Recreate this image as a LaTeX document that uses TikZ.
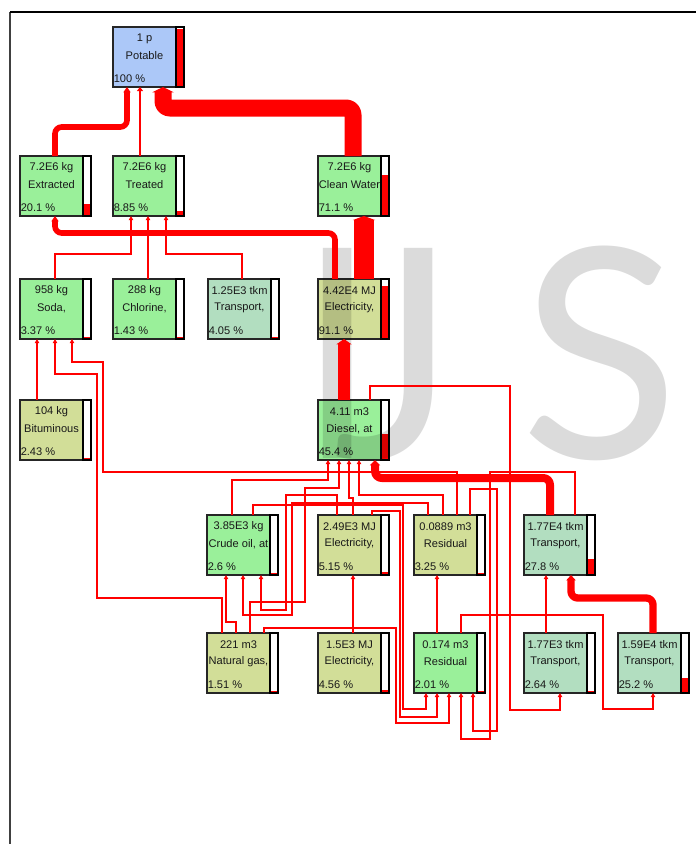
\documentclass[tikz,border=0pt]{standalone}
\usepackage{fontspec}
\setmainfont{Liberation Sans}
\newfontfamily\wmfont{Lato}
\usetikzlibrary{arrows.meta,calc}
\definecolor{nblue}{RGB}{172,200,248}
\definecolor{ngreen}{RGB}{154,240,154}
\definecolor{nolive}{RGB}{210,222,152}
\definecolor{nmint}{RGB}{178,222,192}
\tikzset{
 procbox/.style={draw=black!85, line width=0.8pt, minimum width=47.25pt, minimum height=45pt, inner sep=0pt, outer sep=0pt},
 qtytext/.style={font=\fontsize{8.3}{9.5}\selectfont, inner sep=0pt, text=black!90},
 pcttext/.style={font=\fontsize{8.3}{9.5}\selectfont, inner sep=0pt, anchor=west, text=black!90},
 flow/.style={draw=red, line width=0.8pt, -{Triangle[length=3pt,width=3.2pt]}},
 bigflow/.style={draw=red, line width=#1, rounded corners=5pt, line join=round, -{Triangle[length=4pt,width=0pt 1.25]}},
 wmtext/.style={font=\wmfont\fontsize{220}{220}\selectfont, text=black, text opacity=0.14, inner sep=0pt},
}
% name, L, T, colour, line1, line2, percent, fraction
\newcommand{\procnode}[8]{%
 \node[procbox, fill=#4, anchor=north west] (#1) at (#2,#3) {};
 \node[qtytext] (#1q) at ($(#1.north)+(0,12)$) {#5};
 \node[qtytext] (#1n) at ($(#1.north)+(0,29)$) {#6};
 \node[pcttext] (#1p) at ($(#1.south west)+(0.5,-8)$) {#7};
 \fill[white] (#1.north east) rectangle ++(8,60);
 \fill[red] (#1.south east) rectangle ++(8,{-max(2,58*#8)});
 \draw[black, line width=1.1pt] (#1.north east) rectangle ++(8,60);
}
\begin{document}
\begin{tikzpicture}[x=0.75pt,y=-0.75pt]
\useasboundingbox (0,0) rectangle (696,844);
\clip (0,0) rectangle (696,844);
\fill[white] (0,0) rectangle (696,844);
\draw[black!75, line width=1pt] (10,844) -- (10,12);
\draw[black, line width=1.5pt] (10,12) -- (696,12);

\procnode{pot}{113}{27}{nblue}{1 p}{Potable}{100 \%}{1}
\procnode{ext}{20}{156}{ngreen}{7.2E6 kg}{Extracted}{20.1 \%}{0.201}
\procnode{tre}{113}{156}{ngreen}{7.2E6 kg}{Treated}{8.85 \%}{0.0885}
\procnode{cw}{318}{156}{ngreen}{7.2E6 kg}{Clean Water}{71.1 \%}{0.711}
\procnode{soda}{20}{279}{ngreen}{958 kg}{Soda,}{3.37 \%}{0.0337}
\procnode{chl}{113}{279}{ngreen}{288 kg}{Chlorine,}{1.43 \%}{0.0143}
\procnode{tra}{208}{279}{nmint}{1.25E3 tkm}{Transport,}{4.05 \%}{0.0405}
\procnode{ela}{318}{279}{nolive}{4.42E4 MJ}{Electricity,}{91.1 \%}{0.911}
\procnode{bit}{20}{400}{nolive}{104 kg}{Bituminous}{2.43 \%}{0.0243}
\procnode{dsl}{318}{400}{ngreen}{4.11 m3}{Diesel, at}{45.4 \%}{0.454}
\procnode{crude}{207}{515}{ngreen}{3.85E3 kg}{Crude oil, at}{2.6 \%}{0.026}
\procnode{elb}{318}{515}{nolive}{2.49E3 MJ}{Electricity,}{5.15 \%}{0.0515}
\procnode{resa}{414}{515}{nolive}{0.0889 m3}{Residual}{3.25 \%}{0.0325}
\procnode{trb}{524}{515}{nmint}{1.77E4 tkm}{Transport,}{27.8 \%}{0.278}
\procnode{ng}{207}{633}{nolive}{221 m3}{Natural gas,}{1.51 \%}{0.0151}
\procnode{elc}{318}{633}{nolive}{1.5E3 MJ}{Electricity,}{4.56 \%}{0.0456}
\procnode{resb}{414}{633}{ngreen}{0.174 m3}{Residual}{2.01 \%}{0.0201}
\procnode{trc}{524}{633}{nmint}{1.77E3 tkm}{Transport,}{2.64 \%}{0.0264}
\procnode{trd}{618}{633}{nmint}{1.59E4 tkm}{Transport,}{25.2 \%}{0.252}

% watermark
\node[wmtext, anchor=base west] (wm) at (296,458) {I\kern-34pt J\kern48pt S};

% thick flows
\draw[bigflow=12.75pt] (353,0 |- cw.north) |- (163,108) -- (163,0 |- pot.south);
\draw[bigflow=4.2pt] (55,0 |- ext.north) |- (127,127) -- (127,0 |- pot.south);
\draw[draw=red, line width=1.8pt, -{Triangle[length=3pt,width=4.5pt]}] (140,0 |- tre.north) -- (140,0 |- pot.south);
\draw[bigflow=4.2pt] (335,0 |- ela.north) |- (55,233) -- (55,0 |- ext.south);
\draw[bigflow=15pt, -{Triangle[length=3pt,width=0pt 1.1]}] (364,0 |- ela.north) -- (364,0 |- cw.south);
\draw[bigflow=9pt] (344,0 |- dsl.north) -- (344,0 |- ela.south);
\draw[bigflow=6pt] (550,0 |- trb.north) |- (375,478) -- (375,0 |- dsl.south);
\draw[bigflow=5.5pt] (653,0 |- trd.north) |- (571,598) -- (571,0 |- trb.south);

% thin flows
\draw[flow] (55,0 |- soda.north) |- (131,254) -- (131,0 |- tre.south);
\draw[flow] (148,0 |- chl.north) -- (148,0 |- tre.south);
\draw[flow] (242,0 |- tra.north) |- (166,254) -- (166,0 |- tre.south);
\draw[flow] (37,0 |- bit.north) -- (37,0 |- soda.south);
\draw[flow] (457,0 |- resa.north) |- (103,472) |- (72,362) -- (72,0 |- soda.south);
\draw[flow] (222,0 |- ng.north) |- (97,598) |- (55,374) -- (55,0 |- soda.south);
\draw[flow] (232,0 |- crude.north) |- (328,480) -- (328,0 |- dsl.south);
\draw[flow] (250,0 |- ng.north) |- (305,602) |- (339,488) -- (339,0 |- dsl.south);
\draw[flow] (353,0 |- elb.north) |- (349,498) -- (349,0 |- dsl.south);
\draw[flow] (443,0 |- resa.north) |- (359,495) -- (359,0 |- dsl.south);
\draw[flow] (236,0 |- ng.north) |- (226,622) -- (226,0 |- crude.south);
\draw[flow] (428,0 |- resa.north) |- (292,503) |- (243,615) -- (243,0 |- crude.south);
\draw[flow] (337,0 |- elb.north) |- (286,495) |- (261,610) -- (261,0 |- crude.south);
\draw[flow] (353,0 |- elc.north) -- (353,0 |- elb.south);
\draw[flow] (437,0 |- resb.north) -- (437,0 |- resa.south);
\draw[flow] (546,0 |- trc.north) -- (546,0 |- trb.south);
\draw[flow] (253,0 |- crude.north) |- (403,505) |- (426,709) -- (426,0 |- resb.south);
\draw[flow] (372,0 |- elb.north) |- (400,511) |- (437,717) -- (437,0 |- resb.south);
\draw[flow] (264,0 |- ng.north) |- (396,628) |- (449,723) -- (449,0 |- resb.south);
\draw[flow] (575,0 |- trb.north) |- (490,472) |- (461,739) -- (461,0 |- resb.south);
\draw[flow] (470,0 |- resa.north) |- (497,489) |- (473,731) -- (473,0 |- resb.south);
\draw[flow] (370,0 |- dsl.north) |- (510,386) |- (560,710) -- (560,0 |- trc.south);
\draw[flow] (461,0 |- resb.north) |- (603,615) |- (653,709) -- (653,0 |- trd.south);
\end{tikzpicture}
\end{document}
